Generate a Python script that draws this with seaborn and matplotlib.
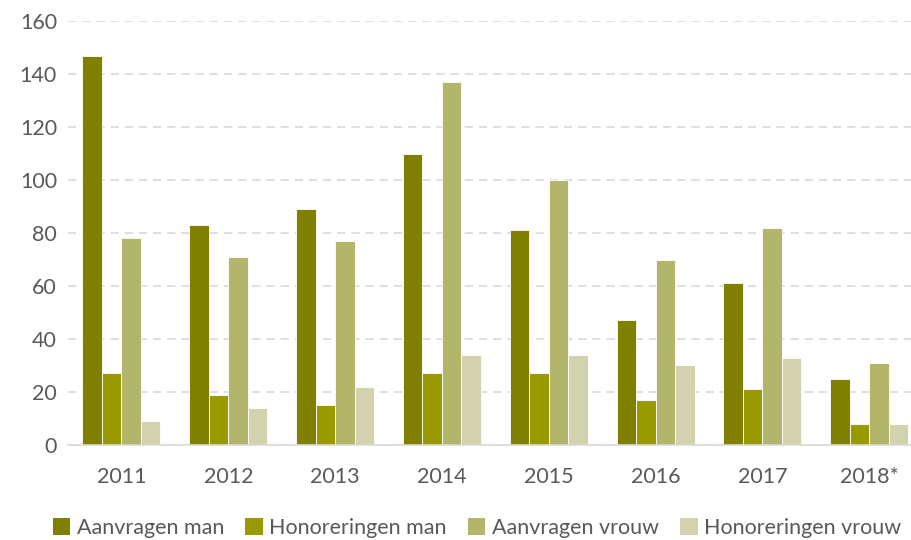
import numpy as np
import pandas as pd
import matplotlib
matplotlib.use("Agg")
import matplotlib.pyplot as plt
import seaborn as sns
from matplotlib.patches import Patch

# ---------------------------
# Data
# ---------------------------
years = ["2011", "2012", "2013", "2014", "2015", "2016", "2017", "2018*"]
aanvragen_man = [147, 83, 89, 110, 81, 47, 61, 25]
honoreringen_man = [27, 19, 15, 27, 27, 17, 21, 8]
aanvragen_vrouw = [78, 71, 77, 137, 100, 70, 82, 31]
honoreringen_vrouw = [9, 14, 22, 34, 34, 30, 33, 8]

series = ["Aanvragen man", "Honoreringen man", "Aanvragen vrouw", "Honoreringen vrouw"]
colors = ["#808000", "#999900", "#b3b66a", "#d2d3ae"]

TEXT_COLOR = "#595959"
GRID_COLOR = "#d9d9d9"

df = pd.DataFrame({
    "jaar": years * 4,
    "serie": np.repeat(series, len(years)),
    "aantal": aanvragen_man + honoreringen_man + aanvragen_vrouw + honoreringen_vrouw,
})

# ---------------------------
# Plot
# ---------------------------
sns.set_style("white")
plt.rcParams["font.family"] = ["Lato", "DejaVu Sans"]

fig = plt.figure(figsize=(9.12, 5.4), dpi=100)
ax = fig.add_axes([0.0746, 0.176, 0.9254, 0.785])

sns.barplot(data=df, x="jaar", y="aantal", hue="serie", hue_order=series,
            palette=colors, saturation=1, width=0.73, gap=0,
            edgecolor="white", linewidth=0.6, ax=ax, legend=False)

ax.set_ylim(0, 160)
ax.set_xlim(-0.5, 7.4)
ax.set_yticks(range(0, 161, 20))
ax.yaxis.grid(True, linestyle=(0, (5, 3.5)), color=GRID_COLOR, linewidth=1.2)
ax.set_axisbelow(True)
for s in ["top", "right", "left"]:
    ax.spines[s].set_visible(False)
ax.spines["bottom"].set_color(GRID_COLOR)
ax.spines["bottom"].set_linewidth(1.2)

ax.set_xlabel("")
ax.set_ylabel("")
ax.tick_params(axis="both", length=0, labelsize=15.5, colors=TEXT_COLOR)
ax.tick_params(axis="x", pad=16)
ax.tick_params(axis="y", pad=8)

handles = [Patch(facecolor=c, edgecolor="none") for c in colors]
fig.legend(handles, series, loc="center", bbox_to_anchor=(0.523, 1 - 528 / 540),
           ncol=4, frameon=False, fontsize=15.5, labelcolor=TEXT_COLOR,
           handlelength=0.8, handleheight=0.8, handletextpad=0.3, columnspacing=1.0)

fig.savefig("out.png", dpi=100)
